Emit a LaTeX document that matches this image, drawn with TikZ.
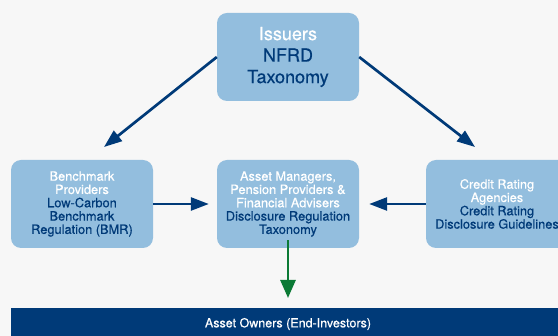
\documentclass[tikz,border=0pt]{standalone}
\usepackage{fontspec}
\setmainfont{TeX Gyre Heros}[FakeBold=0.5]
\usetikzlibrary{arrows.meta}
\definecolor{bg}{HTML}{F7F7F7}
\definecolor{boxblue}{HTML}{93BEDE}
\definecolor{dblue}{HTML}{003A78}
\definecolor{dgreen}{HTML}{0B7A35}
\begin{document}
\begin{tikzpicture}[x=1pt,y=-1pt,
  box/.style={fill=boxblue,rounded corners=10pt,minimum width=142pt,minimum height=88pt,
    align=center,inner sep=0pt,font=\fontsize{12.8}{13.3}\selectfont},
  bigbox/.style={box,font=\fontsize{18}{21.5}\selectfont},
  arr/.style={draw=dblue,line width=2.7pt,-{Triangle[length=18pt,width=13pt]}},
  garr/.style={draw=dgreen,line width=2.7pt,-{Triangle[length=18pt,width=15pt]}},
]
\useasboundingbox (0,0) rectangle (558,336);
\fill[bg] (0,0) rectangle (558,336);
\node[bigbox] (top) at (288,57) {\textcolor{white}{Issuers}\\\textcolor{dblue}{NFRD}\\\textcolor{dblue}{Taxonomy}};
\node[box] (left) at (82,204) {\textcolor{white}{Benchmark}\\\textcolor{white}{Providers}\\\textcolor{dblue}{Low-Carbon}\\\textcolor{dblue}{Benchmark}\\\textcolor{dblue}{Regulation (BMR)}};
\node[box] (mid) at (288,204) {\textcolor{white}{Asset Managers,}\\\textcolor{white}{Pension Providers \&}\\\textcolor{white}{Financial Advisers}\\\textcolor{dblue}{Disclosure Regulation}\\\textcolor{dblue}{Taxonomy}};
\node[box] (right) at (497,204) {\textcolor{white}{Credit Rating}\\\textcolor{white}{Agencies}\\\textcolor{dblue}{Credit Rating}\\\textcolor{dblue}{Disclosure Guidelines}};
\node[fill=dblue,minimum width=554pt,minimum height=34pt,inner sep=0pt,anchor=north west] (owners) at (11,308) {};
\node[text=white,font=\fontsize{12.5}{13.3}\selectfont] (ownerstext) at (288,324) {Asset Owners (End-Investors)};
\coordinate (tl) at (104,147);
\coordinate (tr) at (475,147);
\coordinate (gtip) at (288,298);
\draw[arr] (top.west) -- (tl);
\draw[arr] (top.east) -- (tr);
\draw[arr] (left.east) -- ([xshift=-8pt]mid.west);
\draw[arr] (right.west) -- ([xshift=10pt]mid.east);
\draw[garr] ([yshift=8pt]mid.south) -- (gtip);
\end{tikzpicture}
\end{document}
